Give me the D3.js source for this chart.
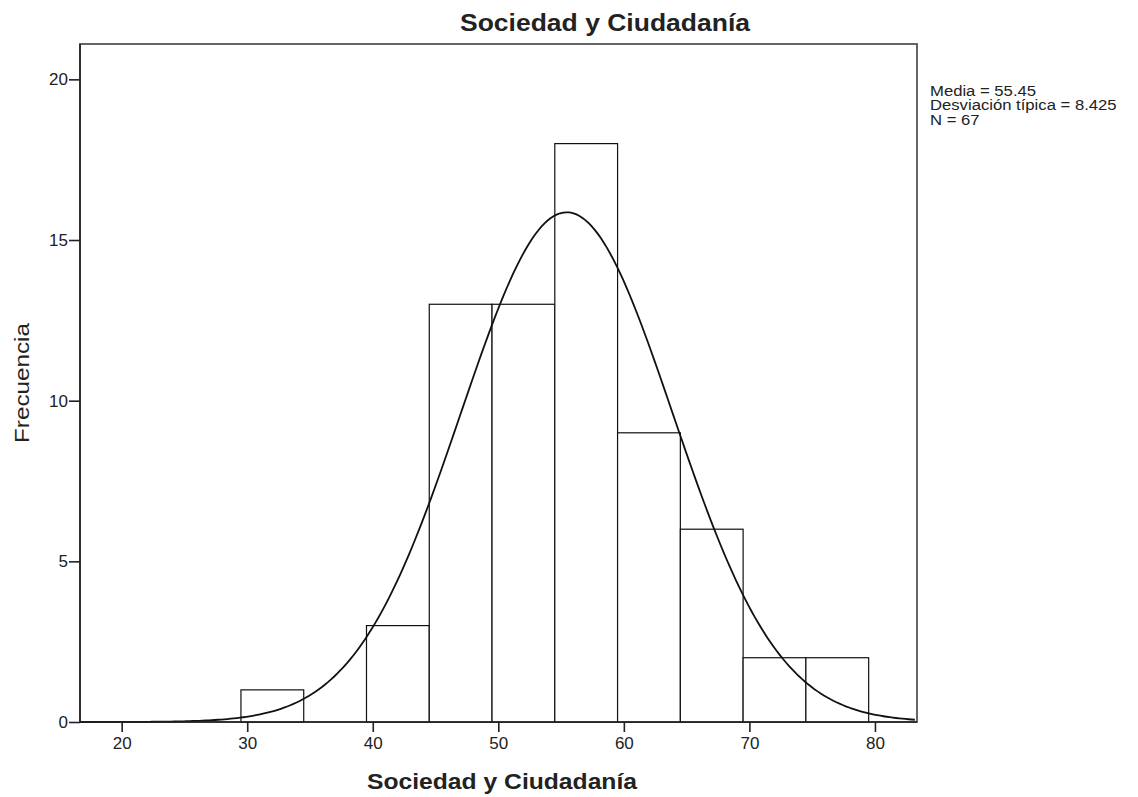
<!DOCTYPE html>
<html>
<head>
<meta charset="utf-8">
<script src="https://cdn.jsdelivr.net/npm/d3@7"></script>
<style>
  body { margin: 0; background: #fff; }
  text { font-family: "Liberation Sans", Arial, sans-serif; fill: #222; }
</style>
</head>
<body>
<svg id="chart"></svg>
<script>
// histogram bins (lower edge) and counts
const binStarts = [29.5, 34.5, 39.5, 44.5, 49.5, 54.5, 59.5, 64.5, 69.5, 74.5];
const binWidth = 5;
const counts = [1, 0, 3, 13, 13, 18, 9, 6, 2, 2];
const xTicks = [20, 30, 40, 50, 60, 70, 80];
const yTicks = [0, 5, 10, 15, 20];
const mean = 55.45;
const sd = 8.425;
const n = 67;
const statLines = ["Media = 55.45", "Desviación típica = 8.425", "N = 67"];

const width = 1138, height = 797;
const margin = {top: 44, right: 221, bottom: 75, left: 80};

const svg = d3.select("#chart").attr("width", width).attr("height", height);

const x = d3.scaleLinear().domain([16.68, 83.35]).range([margin.left, width - margin.right]);
const y = d3.scaleLinear().domain([0, 21.1]).range([height - margin.bottom, margin.top]);

// plot frame
svg.append("rect")
  .attr("x", margin.left).attr("y", margin.top)
  .attr("width", width - margin.left - margin.right)
  .attr("height", height - margin.top - margin.bottom)
  .attr("fill", "#fff").attr("stroke", "#555").attr("stroke-width", 1.8);

// bars
const bars = binStarts.map((s, i) => ({x0: s, x1: s + binWidth, c: counts[i]})).filter(d => d.c > 0);
svg.append("g").selectAll("rect")
  .data(bars)
  .enter().append("rect")
  .attr("x", d => x(d.x0))
  .attr("y", d => y(d.c))
  .attr("width", d => x(d.x1) - x(d.x0))
  .attr("height", d => y(0) - y(d.c))
  .attr("fill", "#fff")
  .attr("stroke", "#111")
  .attr("stroke-width", 1.2);

// fitted normal curve
const pdf = v => n * binWidth * Math.exp(-0.5 * ((v - mean) / sd) ** 2) / (sd * Math.sqrt(2 * Math.PI));
const curvePts = d3.range(x.domain()[0], x.domain()[1] + 0.01, 0.25).map(v => [v, pdf(v)]);
svg.append("path")
  .datum(curvePts)
  .attr("fill", "none")
  .attr("stroke", "#111")
  .attr("stroke-width", 1.8)
  .attr("d", d3.line().x(d => x(d[0])).y(d => y(d[1])));

// axes
svg.append("g")
  .attr("transform", "translate(0," + y(0) + ")")
  .call(d3.axisBottom(x).tickValues(xTicks).tickSize(10).tickPadding(5));
svg.append("g")
  .attr("transform", "translate(" + margin.left + ",0)")
  .call(d3.axisLeft(y).tickValues(yTicks).tickSize(11).tickPadding(1));

svg.selectAll(".domain").remove();
svg.selectAll(".tick line").attr("stroke", "#222").attr("stroke-width", 1.6);
svg.selectAll(".tick text")
  .style("font-family", "'Liberation Sans', Arial, sans-serif")
  .style("font-size", "17px")
  .attr("fill", "#222");

// axis lines
svg.append("line")
  .attr("x1", margin.left).attr("x2", width - margin.right)
  .attr("y1", y(0)).attr("y2", y(0))
  .attr("stroke", "#222").attr("stroke-width", 1.6);
svg.append("line")
  .attr("x1", margin.left).attr("x2", margin.left)
  .attr("y1", margin.top).attr("y2", y(0))
  .attr("stroke", "#222").attr("stroke-width", 1.6);

// titles
svg.append("text")
  .attr("x", 605).attr("y", 31)
  .attr("text-anchor", "middle")
  .attr("textLength", 290).attr("lengthAdjust", "spacingAndGlyphs")
  .style("font-size", "23px").style("font-weight", "bold")
  .attr("fill", "#111")
  .text("Sociedad y Ciudadanía");

svg.append("text")
  .attr("x", 502).attr("y", 789)
  .attr("text-anchor", "middle")
  .attr("textLength", 270).attr("lengthAdjust", "spacingAndGlyphs")
  .style("font-size", "22px").style("font-weight", "bold")
  .attr("fill", "#111")
  .text("Sociedad y Ciudadanía");

svg.append("text")
  .attr("transform", "translate(28.5,383) rotate(-90)")
  .attr("text-anchor", "middle")
  .attr("textLength", 120).attr("lengthAdjust", "spacingAndGlyphs")
  .style("font-size", "21px")
  .attr("fill", "#444")
  .text("Frecuencia");

// stats box (slightly wide lettering, like the source)
svg.append("g")
  .attr("transform", "translate(930,0) scale(1.15,1)")
  .selectAll("text")
  .data(statLines)
  .enter().append("text")
  .attr("x", 0)
  .attr("y", (d, i) => 96 + i * 14.5)
  .style("font-size", "14.5px")
  .text(d => d);
</script>
</body>
</html>
